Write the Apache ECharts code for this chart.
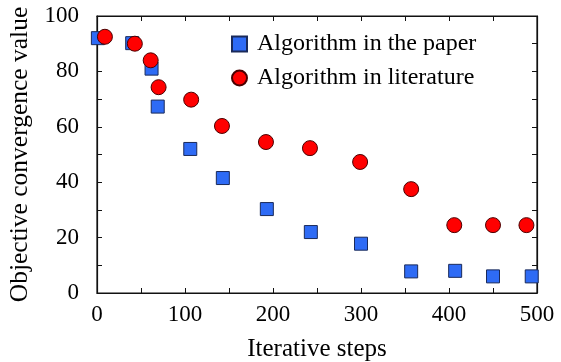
<!DOCTYPE html>
<html><head><meta charset="utf-8">
<script src="https://cdn.jsdelivr.net/npm/echarts@6/dist/echarts.min.js"></script>
<style>html,body{margin:0;padding:0;background:#fff}#c{width:561px;height:362px}</style>
</head><body><div id="c"></div>
<script>
const paperX = [1, 40, 62, 69, 106, 143, 193, 243, 300, 357, 407, 450, 494];
const paperY = [92, 90.2, 81, 67.3, 52, 41.5, 30.3, 22, 17.8, 7.8, 8, 6, 6];
const litX = [9, 43, 61, 70, 107, 142, 192, 242, 299, 357, 406, 450, 488];
const litY = [92.5, 90, 84, 74.3, 69.8, 60.3, 54.5, 52.3, 47.3, 37.5, 24.5, 24.5, 24.5];
const seriesNames = ['Algorithm in the paper', 'Algorithm in literature'];
const xTicks = [0, 100, 200, 300, 400, 500];
const yTicks = [0, 20, 40, 60, 80, 100];

const font = 'Liberation Serif';
const chart = echarts.init(document.getElementById('c'));
const mkLine = () => ({show: true, onZero: false, lineStyle: {color: '#111', width: 1.2}});
const mkTick = () => ({show: true, inside: true, length: 5, lineStyle: {color: '#111', width: 1}});
const xFmt = v => (xTicks.indexOf(v) >= 0 ? String(v) : '');
const yFmt = v => (yTicks.indexOf(v) >= 0 ? String(v) : '');
chart.setOption({
  animation: false,
  grid: {left: 97, right: 24, top: 16, bottom: 69, outerBoundsMode: 'none', containLabel: false,
         show: true, borderColor: '#111', borderWidth: 1.2, backgroundColor: 'transparent'},
  legend: {
    orient: 'vertical', left: 226, top: 27, itemGap: 10, itemWidth: 15, itemHeight: 15,
    textStyle: {fontFamily: font, fontSize: 24, color: '#000', padding: [0, 0, 0, 5]},
    data: [{name: seriesNames[0], icon: 'rect'}, {name: seriesNames[1], icon: 'circle'}]
  },
  xAxis: [{
    show: true, type: 'value', position: 'bottom', min: 0, max: 500, interval: 50,
    name: 'Iterative steps', nameLocation: 'middle', nameGap: 44,
    nameTextStyle: {fontFamily: font, fontSize: 25, color: '#000'},
    axisLine: mkLine(), axisTick: mkTick(), splitLine: {show: false},
    axisLabel: {fontFamily: font, fontSize: 23, color: '#000', margin: 10, formatter: xFmt, showMinLabel: true, showMaxLabel: true, interval: 0}
  }, {
    show: true, type: 'value', position: 'top', min: 0, max: 500, interval: 50,
    axisLine: mkLine(), axisTick: mkTick(), splitLine: {show: false},
    axisLabel: {show: true, formatter: () => '', color: 'transparent'}
  }],
  yAxis: [{
    show: true, type: 'value', position: 'left', min: 0, max: 100, interval: 10,
    name: 'Objective convergence value', nameLocation: 'middle', nameGap: 61,
    nameTextStyle: {fontFamily: font, fontSize: 25.5, color: '#000'},
    axisLine: mkLine(), axisTick: mkTick(), splitLine: {show: false},
    axisLabel: {fontFamily: font, fontSize: 23, color: '#000', margin: 18, formatter: yFmt, interval: 0}
  }, {
    show: true, type: 'value', position: 'right', min: 0, max: 100, interval: 10,
    axisLine: mkLine(), axisTick: mkTick(), splitLine: {show: false},
    axisLabel: {show: true, formatter: () => '', color: 'transparent'}
  }],
  series: [{
    name: seriesNames[0], type: 'scatter', symbol: 'rect', symbolSize: 13,
    itemStyle: {color: '#2e6bf5', borderColor: '#1a2a5a', borderWidth: 1, opacity: 1},
    data: paperX.map((x, i) => [x, paperY[i]])
  }, {
    name: seriesNames[1], type: 'scatter', symbol: 'circle', symbolSize: 15,
    itemStyle: {color: '#ff0000', borderColor: '#4a0000', borderWidth: 1, opacity: 1},
    data: litX.map((x, i) => [x, litY[i]])
  }, {
    name: 'frame', type: 'line', xAxisIndex: 1, yAxisIndex: 1, symbol: 'none', silent: true,
    lineStyle: {opacity: 0}, data: [[0, 0], [500, 100]]
  }]
});
</script></body></html>
